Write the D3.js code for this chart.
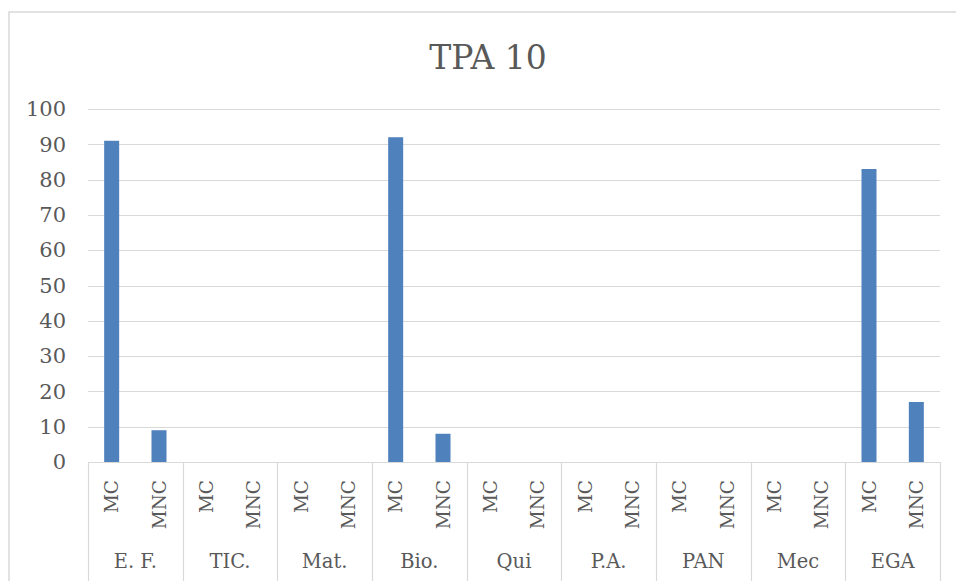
<!DOCTYPE html>
<html>
<head>
<meta charset="utf-8">
<script src="https://cdn.jsdelivr.net/npm/d3@7"></script>
<style>
  html, body { margin: 0; padding: 0; background: #fff; }
  svg { display: block; }
  text { font-family: "DejaVu Serif", "Liberation Serif", serif; fill: #595959; }
</style>
</head>
<body>
<svg id="chart" width="956" height="581"></svg>
<script>
const title = "TPA 10";
const groups = ["E. F.", "TIC.", "Mat.", "Bio.", "Qui", "P.A.", "PAN", "Mec", "EGA"];
const subs = ["MC", "MNC"];
const mcValues  = [91, 0, 0, 92, 0, 0, 0, 0, 83];
const mncValues = [9, 0, 0, 8, 0, 0, 0, 0, 17];
const yTicks = [0, 10, 20, 30, 40, 50, 60, 70, 80, 90, 100];

const data = groups.map((g, i) => ({ group: g, values: [
  { sub: subs[0], value: mcValues[i] },
  { sub: subs[1], value: mncValues[i] }
]}));

const svg = d3.select("#chart");
const W = 956, H = 581;
const mLeft = 88, mRight = 940, mTop = 109, mBottom = 462;

// chart border
svg.append("rect").attr("x", 9).attr("y", 12).attr("width", W + 10).attr("height", H + 10)
  .attr("fill", "none").attr("stroke", "#d9d9d9").attr("stroke-width", 1.5);

const x0 = d3.scaleBand().domain(groups).range([mLeft, mRight]).padding(0);
const x1 = d3.scaleBand().domain(subs).range([0, x0.bandwidth()])
  .paddingInner(0.683).paddingOuter(0.3415);
const y = d3.scaleLinear().domain([0, 100]).range([mBottom, mTop]);

// gridlines
svg.append("g").selectAll("line").data(yTicks).join("line")
  .attr("x1", mLeft).attr("x2", mRight)
  .attr("y1", d => Math.round(y(d)) + 0.5).attr("y2", d => Math.round(y(d)) + 0.5)
  .attr("stroke", "#d9d9d9").attr("stroke-width", 1);

// y axis labels
const yAxis = d3.axisLeft(y).tickValues(yTicks).tickSize(0).tickPadding(22);
const ya = svg.append("g").attr("transform", `translate(${mLeft},0)`).call(yAxis);
ya.select(".domain").remove();
ya.selectAll("text").attr("font-size", 21).attr("fill", "#595959");

// bars
const gg = svg.append("g").selectAll("g").data(data).join("g")
  .attr("transform", d => `translate(${x0(d.group)},0)`);
gg.selectAll("rect").data(d => d.values).join("rect")
  .attr("x", d => x1(d.sub)).attr("width", x1.bandwidth())
  .attr("y", d => y(d.value)).attr("height", d => y(0) - y(d.value))
  .attr("fill", "#4f81bd");

// category separators
const seps = groups.map(g => x0(g)).concat([mRight]);
svg.append("g").selectAll("line").data(seps).join("line")
  .attr("x1", d => Math.round(d) + 0.5).attr("x2", d => Math.round(d) + 0.5)
  .attr("y1", mBottom).attr("y2", H)
  .attr("stroke", "#d9d9d9").attr("stroke-width", 1.2);

// sub labels (rotated)
gg.selectAll("text.sub").data(d => d.values).join("text")
  .attr("class", "sub")
  .attr("transform", d => `translate(${x1(d.sub) + x1.bandwidth() / 2},480) rotate(-90)`)
  .attr("text-anchor", "end").attr("dy", "0.36em")
  .attr("font-size", 18.5)
  .text(d => d.sub);

// group labels
gg.append("text").attr("class", "grp")
  .attr("x", x0.bandwidth() / 2).attr("y", 568)
  .attr("text-anchor", "middle").attr("font-size", 19.5)
  .text(d => d.group);

// title
svg.append("text").attr("x", 488).attr("y", 69).attr("text-anchor", "middle")
  .attr("font-size", 33).text(title);
</script>
</body>
</html>
